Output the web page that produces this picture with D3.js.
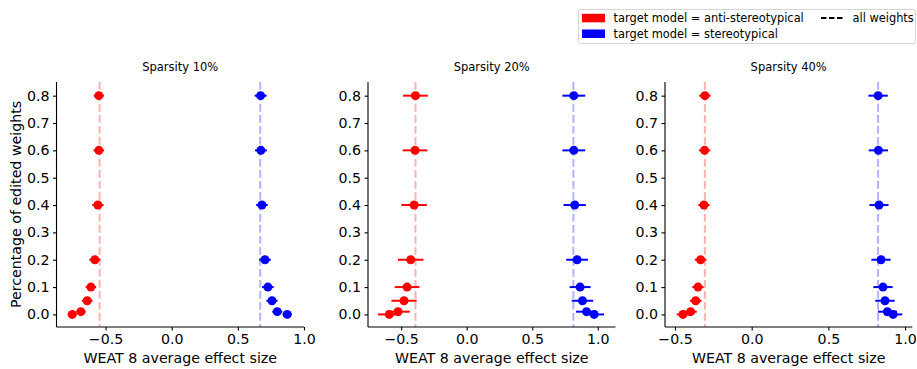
<!DOCTYPE html>
<html>
<head>
<meta charset="utf-8">
<script src="https://cdn.jsdelivr.net/npm/d3@7"></script>
<style>
  body { margin: 0; background: #fff; }
  svg text { font-family: "DejaVu Sans", sans-serif; fill: #000; }
</style>
</head>
<body>
<svg id="chart" width="917" height="369"></svg>
<script>
'use strict';

// fraction of edited weights (y values)
const fractions = [0.0, 0.01, 0.05, 0.1, 0.2, 0.4, 0.6, 0.8];
const panelTitles = ['Sparsity 10%', 'Sparsity 20%', 'Sparsity 40%'];
const yTicks = [0.0, 0.1, 0.2, 0.3, 0.4, 0.5, 0.6, 0.7, 0.8];
const xTicks = [-0.5, 0.0, 0.5, 1.0];

// target model = anti-stereotypical
const anti10 = [-0.752, -0.687, -0.639, -0.611, -0.581, -0.558, -0.551, -0.551];
const anti20 = [-0.590, -0.524, -0.478, -0.455, -0.427, -0.401, -0.394, -0.391];
const anti40 = [-0.448, -0.398, -0.365, -0.350, -0.333, -0.311, -0.307, -0.305];
const antiErr10 = [0.034, 0.036, 0.040, 0.040, 0.042, 0.043, 0.040, 0.039];
const antiErr20 = [0.087, 0.090, 0.096, 0.094, 0.097, 0.097, 0.094, 0.094];
const antiErr40 = [0.041, 0.040, 0.038, 0.037, 0.038, 0.037, 0.037, 0.037];

// target model = stereotypical
const stereo10 = [0.873, 0.798, 0.758, 0.727, 0.705, 0.682, 0.674, 0.672];
const stereo20 = [0.972, 0.914, 0.883, 0.865, 0.842, 0.824, 0.817, 0.817];
const stereo40 = [0.922, 0.885, 0.869, 0.856, 0.843, 0.830, 0.826, 0.824];
const stereoErr10 = [0.035, 0.038, 0.042, 0.044, 0.044, 0.044, 0.045, 0.045];
const stereoErr20 = [0.076, 0.080, 0.082, 0.080, 0.083, 0.085, 0.087, 0.087];
const stereoErr40 = [0.060, 0.062, 0.063, 0.063, 0.063, 0.062, 0.063, 0.063];

// all weights edited (dashed reference lines)
const antiAll = [-0.545, -0.391, -0.305];
const stereoAll = [0.669, 0.814, 0.824];

const RED = '#ff0000';
const BLUE = '#0000ff';
const plotTop = 82, plotBottom = 327;
const panels = [
    {x0: 56.5, x1: 304, dom: [-0.871, 1.0]},
    {x0: 368, x1: 615.5, dom: [-0.753, 1.135]},
    {x0: 665, x1: 912.3, dom: [-0.565, 1.047]}
];
const antiSets = [[anti10, antiErr10], [anti20, antiErr20], [anti40, antiErr40]];
const stereoSets = [[stereo10, stereoErr10], [stereo20, stereoErr20], [stereo40, stereoErr40]];

const svg = d3.select('#chart');
const y = d3.scaleLinear().domain([-0.046, 0.85]).range([plotBottom, plotTop]);
const fmt = v => d3.format('.1f')(v).replace('-', '\u2212');

let drawPanel = (i) => {
    const p = panels[i];
    const x = d3.scaleLinear().domain(p.dom).range([p.x0, p.x1]);
    const g = svg.append('g');

    // dashed reference lines
    [[antiAll[i], RED], [stereoAll[i], BLUE]].forEach(([v, c]) => {
        g.append('line')
            .attr('x1', x(v)).attr('x2', x(v))
            .attr('y1', plotTop).attr('y2', plotBottom)
            .attr('stroke', c).attr('stroke-opacity', 0.3)
            .attr('stroke-width', 2)
            .attr('stroke-dasharray', '7.7,3.3');
    });

    // error bars + markers
    [[antiSets[i], RED], [stereoSets[i], BLUE]].forEach(([[vals, errs], c]) => {
        const pts = fractions.map((f, k) => ({f: f, v: vals[k], e: errs[k]}));
        g.selectAll(null).data(pts).enter().append('line')
            .attr('x1', d => x(d.v - d.e)).attr('x2', d => x(d.v + d.e))
            .attr('y1', d => y(d.f)).attr('y2', d => y(d.f))
            .attr('stroke', c).attr('stroke-width', 2);
        g.selectAll(null).data(pts).enter().append('circle')
            .attr('cx', d => x(d.v)).attr('cy', d => y(d.f))
            .attr('r', 4.5).attr('fill', c);
    });

    // axes
    const xAxis = d3.axisBottom(x).tickValues(xTicks).tickFormat(fmt).tickSize(3.5).tickPadding(3.5);
    const yAxis = d3.axisLeft(y).tickValues(yTicks).tickFormat(fmt).tickSize(3.5).tickPadding(3.5);
    const gx = g.append('g').attr('transform', `translate(0,${plotBottom})`).call(xAxis);
    const gy = g.append('g').attr('transform', `translate(${p.x0},0)`).call(yAxis);
    gx.select('.domain').attr('d', `M${p.x0},0H${p.x1}`);
    gy.select('.domain').attr('d', `M0,${plotTop}V${plotBottom}`);
    [gx, gy].forEach(a => {
        a.select('.domain').attr('stroke-width', 1.1);
        a.selectAll('.tick line').attr('stroke-width', 1.1);
        a.selectAll('.tick text').attr('font-size', '14.2px');
    });

    g.append('text')
        .attr('x', (p.x0 + p.x1) / 2).attr('y', 71)
        .attr('text-anchor', 'middle').attr('font-size', '11.5px')
        .text(panelTitles[i]);
    g.append('text')
        .attr('x', (p.x0 + p.x1) / 2).attr('y', 363)
        .attr('text-anchor', 'middle').attr('font-size', '14.2px')
        .text('WEAT 8 average effect size');
}

for (let i = 0; i < panels.length; i++) drawPanel(i);

svg.append('text')
    .attr('transform', `translate(21,${(plotTop + plotBottom) / 2}) rotate(-90)`)
    .attr('text-anchor', 'middle').attr('font-size', '14.2px')
    .text('Percentage of edited weights');

// legend
const leg = svg.append('g');
leg.append('rect')
    .attr('x', 578.5).attr('y', 9.5).attr('width', 337).attr('height', 34)
    .attr('rx', 2).attr('fill', '#fff').attr('stroke', '#d6d6d6').attr('stroke-width', 1);
const legItems = [
    {label: 'target model = anti-stereotypical', color: RED, ly: 22.3},
    {label: 'target model = stereotypical', color: BLUE, ly: 38}
];
legItems.forEach(d => {
    leg.append('rect').attr('x', 582).attr('y', d.ly - 8.5).attr('width', 23).attr('height', 8.5).attr('fill', d.color);
    leg.append('text').attr('x', 613.5).attr('y', d.ly).attr('font-size', '11.4px').text(d.label);
});
leg.append('line')
    .attr('x1', 821).attr('x2', 843).attr('y1', 18).attr('y2', 18)
    .attr('stroke', '#000').attr('stroke-width', 2).attr('stroke-dasharray', '5.5,2.5');
leg.append('text').attr('x', 852.5).attr('y', 22.3).attr('font-size', '11.4px').text('all weights');
</script>
</body>
</html>
